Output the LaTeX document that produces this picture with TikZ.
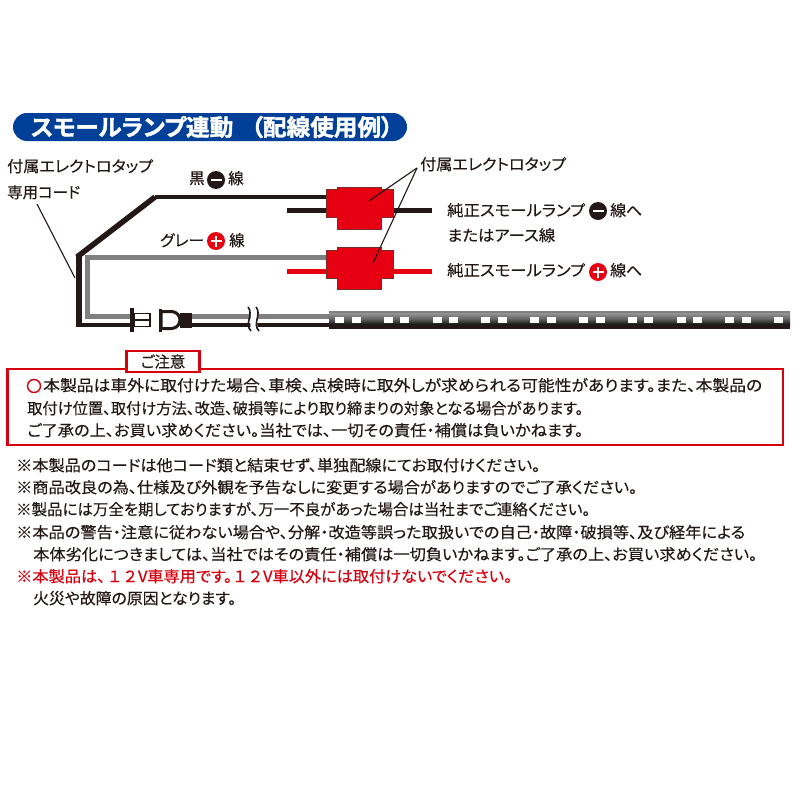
\documentclass[tikz,border=0pt]{standalone}
\usepackage{fontspec}
\usepackage{graphicx}
\setmainfont{Noto Sans CJK JP}[RawFeature={+palt},FakeBold=0.2,BoldFont={* Bold},BoldFeatures={FakeBold=1.6}]
\definecolor{ink}{HTML}{231815}
\definecolor{tapred}{HTML}{E60012}
\definecolor{tapedge}{HTML}{7A2A25}
\definecolor{boxred}{HTML}{D7000F}
\definecolor{navy}{HTML}{004098}
\definecolor{wiregrey}{HTML}{808080}
\newcommand{\fitw}[2]{\resizebox{#1pt}{\height}{#2}}
\tikzset{
  txt/.style={anchor=west,inner sep=0pt,yshift=0.8pt,text=ink,font=\fontsize{15.5}{17}\selectfont},
  tapbody/.style={draw=tapedge,line width=1pt,fill=tapred,rectangle,inner sep=0pt,minimum width=44pt,minimum height=42pt},
  tapcollar/.style={draw=tapedge,line width=1pt,fill=tapred,rectangle,inner sep=0pt,minimum width=67pt,minimum height=28pt},
  blackwire/.style={draw=ink,line width=4.4pt},
  greywire/.style={draw=wiregrey,line width=5pt},
  leader/.style={draw=ink,line width=1.1pt},
  badge/.style={circle,inner sep=0pt,minimum size=18pt}
}
\newcommand{\minusbadge}[2]{\node[badge,fill=ink] (#1) at (#2) {}; \fill[white] ([xshift=-5.5pt,yshift=-1.2pt]#1.center) rectangle ([xshift=5.5pt,yshift=1.2pt]#1.center);}
\newcommand{\plusbadge}[2]{\node[badge,fill=tapred] (#1) at (#2) {}; \fill[white] ([xshift=-5.5pt,yshift=-1.1pt]#1.center) rectangle ([xshift=5.5pt,yshift=1.1pt]#1.center); \fill[white] ([xshift=-1.1pt,yshift=-5.5pt]#1.center) rectangle ([xshift=1.1pt,yshift=5.5pt]#1.center);}
\begin{document}
\begin{tikzpicture}[x=1pt,y=-1pt]
\useasboundingbox (0,0) rectangle (800,800);
\fill[white] (0,0) rectangle (800,800);
% banner
\node[fill=navy,rounded corners=14pt,minimum width=394pt,minimum height=28pt,inner sep=0pt] (banner) at (210,127) {};
\node[anchor=center,inner sep=0pt,text=white,font=\fontsize{23}{25}\selectfont\bfseries] (bannertext) at (212,127) {\fitw{362}{スモールランプ連動\hspace{0.75em}（配線使用例）}};
% labels
\node[txt] (cordA) at (7,167) {\fitw{146}{付属エレクトロタップ}};
\node[txt] (cordB) at (7,193) {\fitw{73}{専用コード}};
\node[txt] (kuro) at (189,179) {黒};
\minusbadge{mbadge}{216,180}
\node[txt] (senA) at (228,179) {線};
\node[txt] (grey) at (160,241) {\fitw{44}{グレー}};
\plusbadge{pbadge}{216,241}
\node[txt] (senB) at (229,241) {線};
\node[txt] (tapl) at (420,165) {\fitw{146}{付属エレクトロタップ}};
\node[txt] (jsA) at (447,211) {\fitw{138}{純正スモールランプ}};
\minusbadge{mbadgeb}{598,211}
\node[txt] (senC) at (610,211) {\fitw{32}{線へ}};
\node[txt] (mata) at (447,236) {\fitw{108}{またはアース線}};
\node[txt] (jsB) at (447,271) {\fitw{138}{純正スモールランプ}};
\plusbadge{pbadgeb}{598,272}
\node[txt] (senD) at (610,271) {\fitw{32}{線へ}};
% coordinates
\coordinate (a1) at (79,325);
\coordinate (a2) at (79,255);
\coordinate (a3) at (155,197);
\coordinate (g0) at (130,316);
\coordinate (g1) at (87,316);
\coordinate (g2) at (87,257);
% stubs behind taps
\draw[ink,line width=4.5pt] (287,210.5) coordinate (s1) -- (432,210.5) coordinate (s2);
\draw[tapred,line width=4.5pt] (287,271.5) coordinate (s3) -- (432,271.5) coordinate (s4);
% main cord
\draw[greywire] (g0) -- (g1) -- (g2) -- (326,257) coordinate (g3);
\draw[blackwire,line cap=butt,line join=miter] (130,325) -- (a1);
\draw[ink,line width=6pt] (79,327) -- (a2);
\draw[ink,line width=5.5pt] (77,257) -- (a3);
\draw[blackwire] (a3) -- (326,197) coordinate (a4);
% taps
\node[tapcollar] (tapAc) at (359.5,203) {};
\node[tapbody] (tapA) at (359,208) {};
\node[tapcollar] (tapBc) at (359.5,264) {};
\node[tapbody] (tapB) at (359,268.5) {};
% leaders
\coordinate (ltip) at (417,168);
\draw[leader] (ltip) -- (369,201);
\draw[leader] (ltip) -- (373,263);
\draw[leader] (37,204) -- (75,278);
% cables after plug
\draw[greywire] (192,316) -- (329,316);
\draw[blackwire,line width=4.5pt] (192,325) -- (329,325);
% break
\fill[white] (248,305) .. controls (256,313) and (246,323) .. (253,333) -- (260,333) .. controls (253,323) and (263,313) .. (255,305) -- cycle;
\draw[ink,line width=1.6pt] (248,307) .. controls (254,314) and (244,324) .. (251,331);
\draw[ink,line width=1.6pt] (256,307) .. controls (262,314) and (252,324) .. (259,331);
% male plug
\draw[ink,line width=1.8pt,fill=white] (134,313.5) rectangle (150,319.5);
\draw[ink,line width=1.8pt,fill=white] (134,320.5) rectangle (150,326.5);
\fill[ink] (130,308) rectangle (134,332);
% female plug
\draw[ink,line width=3pt,fill=white] (161,311.5) -- (172,311.5) .. controls (177,312) and (180,316) .. (180,320) .. controls (180,324) and (177,328) .. (172,328.5) -- (161,328.5) -- cycle;
\fill[ink] (158.5,309) rectangle (162,332);
\fill[ink] (180,313) rectangle (192,328);
% LED strip
\shade[top color=wiregrey!70,bottom color=black,middle color=wiregrey!80!black] (329,311) rectangle (790,326);
\fill[wiregrey] (329,311) rectangle (790,313);
\fill[ink] (329,325) rectangle (790,329);
\foreach \i in {0,...,9} {
  \fill[white] (335+48.8*\i,317) rectangle ++(9,6);
  \fill[white] (351.5+48.8*\i,317) rectangle ++(9,6);
}
% warning box
\draw[boxred,line width=2.6pt] (7.5,369) rectangle (783,445);
\node[draw=boxred,line width=2.2pt,fill=white,minimum width=73pt,minimum height=21pt,inner sep=0pt,text=ink,font=\fontsize{15.5}{17}\selectfont] (chui) at (163,361.5) {ご注意};
\node[circle,draw=boxred,line width=1.4pt,minimum size=13pt,inner sep=0pt] (ring) at (34,386) {};
\node[txt] (w1) at (43,386) {\fitw{719}{本製品は車外に取付けた場合、車検、点検時に取外しが求められる可能性があります。また、本製品の}};
\node[txt] (w2) at (27,409) {\fitw{556}{取付け位置、取付け方法、改造、破損等により取り締まりの対象となる場合があります。}};
\node[txt] (w3) at (27,431) {\fitw{556}{ご了承の上、お買い求めください。当社では、一切その責任・補償は負いかねます。}};
% notes
\node[txt] (n1) at (16,466) {\fitw{524}{※本製品のコードは他コード類と結束せず、単独配線にてお取付けください。}};
\node[txt] (n2) at (16,488) {\fitw{621}{※商品改良の為、仕様及び外観を予告なしに変更する場合がありますのでご了承ください。}};
\node[txt] (n3) at (16,510) {\fitw{574}{※製品には万全を期しておりますが、万一不良があった場合は当社までご連絡ください。}};
\node[txt] (n4) at (16,533) {\fitw{729}{※本品の警告・注意に従わない場合や、分解・改造等誤った取扱いでの自己・故障・破損等、及び経年による}};
\node[txt] (n5) at (33,555) {\fitw{724}{本体劣化につきましては、当社ではその責任・補償は一切負いかねます。ご了承の上、お買い求めください。}};
\node[txt,text=boxred] (n6) at (16,577) {\fitw{496}{※本製品は、\hspace{0.2em}１\hspace{0.2em}２\hspace{0.1em}V車専用です。\hspace{0.1em}１\hspace{0.2em}２\hspace{0.1em}V車以外には取付けないでください。}};
\node[txt] (n7) at (33,599) {\fitw{203}{火災や故障の原因となります。}};
\end{tikzpicture}
\end{document}
